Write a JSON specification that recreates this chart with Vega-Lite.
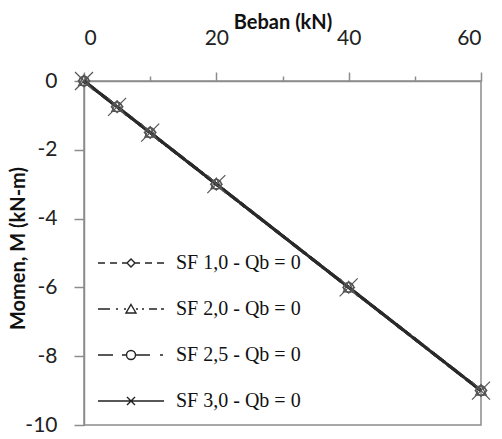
{
  "$schema": "https://vega.github.io/schema/vega-lite/v6.json",
  "autosize": "none",
  "width": 397,
  "height": 344,
  "padding": {"left": 84, "top": 81, "right": 21, "bottom": 14},
  "background": "white",
  "config": {
    "view": {"stroke": "#8c8c8c", "strokeWidth": 1.5},
    "axis": {"grid": false, "domainColor": "#8c8c8c", "domainWidth": 1.5, "tickColor": "#8c8c8c", "tickWidth": 1.5,
      "labelFont": "Lato", "labelFontSize": 21, "labelColor": "#222", "titleFont": "Lato", "titleFontSize": 20, "titleFontWeight": "bold", "titleColor": "#111"}
  },
  "data": {"values": [
    {"series": "SF 1,0 - Qb = 0", "P": 0, "M": 0},
    {"series": "SF 1,0 - Qb = 0", "P": 5, "M": -0.75},
    {"series": "SF 1,0 - Qb = 0", "P": 10, "M": -1.5},
    {"series": "SF 1,0 - Qb = 0", "P": 20, "M": -3},
    {"series": "SF 1,0 - Qb = 0", "P": 40, "M": -6},
    {"series": "SF 1,0 - Qb = 0", "P": 60, "M": -9},
    {"series": "SF 2,0 - Qb = 0", "P": 0, "M": 0},
    {"series": "SF 2,0 - Qb = 0", "P": 5, "M": -0.75},
    {"series": "SF 2,0 - Qb = 0", "P": 10, "M": -1.5},
    {"series": "SF 2,0 - Qb = 0", "P": 20, "M": -3},
    {"series": "SF 2,0 - Qb = 0", "P": 40, "M": -6},
    {"series": "SF 2,0 - Qb = 0", "P": 60, "M": -9},
    {"series": "SF 2,5 - Qb = 0", "P": 0, "M": 0},
    {"series": "SF 2,5 - Qb = 0", "P": 5, "M": -0.75},
    {"series": "SF 2,5 - Qb = 0", "P": 10, "M": -1.5},
    {"series": "SF 2,5 - Qb = 0", "P": 20, "M": -3},
    {"series": "SF 2,5 - Qb = 0", "P": 40, "M": -6},
    {"series": "SF 2,5 - Qb = 0", "P": 60, "M": -9},
    {"series": "SF 3,0 - Qb = 0", "P": 0, "M": 0},
    {"series": "SF 3,0 - Qb = 0", "P": 5, "M": -0.75},
    {"series": "SF 3,0 - Qb = 0", "P": 10, "M": -1.5},
    {"series": "SF 3,0 - Qb = 0", "P": 20, "M": -3},
    {"series": "SF 3,0 - Qb = 0", "P": 40, "M": -6},
    {"series": "SF 3,0 - Qb = 0", "P": 60, "M": -9}
  ]},
  "encoding": {
    "x": {"field": "P", "type": "quantitative", "scale": {"domain": [0, 60], "nice": false},
      "axis": {"orient": "top", "title": "Beban (kN)", "values": [0, 10, 20, 30, 40, 50, 60],
        "labelExpr": "datum.value % 20 === 0 ? datum.label : ''",
        "tickSize": {"condition": {"test": "datum.value % 20 === 0", "value": 9}, "value": 5},
        "labelPadding": 24, "titlePadding": -5}},
    "y": {"field": "M", "type": "quantitative", "scale": {"domain": [-10, 0], "nice": false},
      "axis": {"title": "Momen, M (kN-m)", "values": [0, -2, -4, -6, -8, -10], "tickSize": 10, "labelPadding": 17,
        "labelExpr": "toString(datum.value)", "titleX": -56, "titleY": 167}}
  },
  "resolve": {"scale": {"shape": "independent"}, "legend": {"shape": "independent"}},
  "layer": [
    {
      "mark": {"type": "line", "color": "#2a2a2a", "strokeWidth": 3},
      "encoding": {
        "strokeDash": {"field": "series", "type": "nominal",
          "scale": {"range": [[6, 5], [12, 4, 2, 4], [14, 4, 4, 4], [1, 0]]},
          "legend": null}
      }
    },
    {
      "mark": {"type": "point", "filled": false, "stroke": "#555", "strokeWidth": 1.2, "opacity": 1, "size": 324},
      "encoding": {
        "shape": {"field": "series", "type": "nominal",
          "scale": {"range": ["M0,-0.65L0.65,0L0,0.65L-0.65,0Z", "M0,-0.65L0.6,0.5L-0.6,0.5Z", "M-0.55,0A0.55,0.55 0 1,0 0.55,0A0.55,0.55 0 1,0 -0.55,0", "M-1,-1L1,1M-1,1L1,-1"]},
          "legend": null}
      }
    },
    {
      "transform": [{"filter": "datum.P < 0"}],
      "mark": {"type": "point", "filled": false, "stroke": "#222", "strokeWidth": 1.4, "opacity": 1, "size": 400},
      "encoding": {
        "shape": {"field": "series", "type": "nominal",
          "scale": {"domain": ["SF 1,0 - Qb = 0", "SF 2,0 - Qb = 0", "SF 2,5 - Qb = 0", "SF 3,0 - Qb = 0"],
            "range": [
              "M-3.3,0H-2.6M-2.1,0H-1.4M-0.9,0H-0.4M0.4,0H0.9M1.4,0H2.1M2.6,0H3.3M0,-0.4L0.4,0L0,0.4L-0.4,0Z",
              "M-3.3,0H-2.1M-1.5,0H-1.3M-0.7,0H-0.5M0.5,0H0.7M1.1,0H1.3M1.8,0H2.6M3.0,0H3.3M0,-0.45L0.5,0.4L-0.5,0.4Z",
              "M-3.3,0H-1.8M-0.9,0H-0.45M0.45,0H1.9M2.9,0H3.2M-0.45,0A0.45,0.45 0 1,0 0.45,0A0.45,0.45 0 1,0 -0.45,0",
              "M-3.3,0H3.3M-0.4,-0.4L0.4,0.4M-0.4,0.4L0.4,-0.4"
            ]},
          "legend": {
            "title": null, "orient": "none", "legendX": 36, "legendY": 171, "padding": 0,
            "symbolSize": 400, "symbolStrokeColor": "#222", "symbolStrokeWidth": 1.4, "symbolFillColor": "transparent", "symbolOpacity": 1,
            "labelFont": "Liberation Serif", "labelFontSize": 20, "labelColor": "#111", "labelOffset": 34, "rowPadding": 25,
            "symbolOffset": 0
          }}
      }
    }
  ]
}
